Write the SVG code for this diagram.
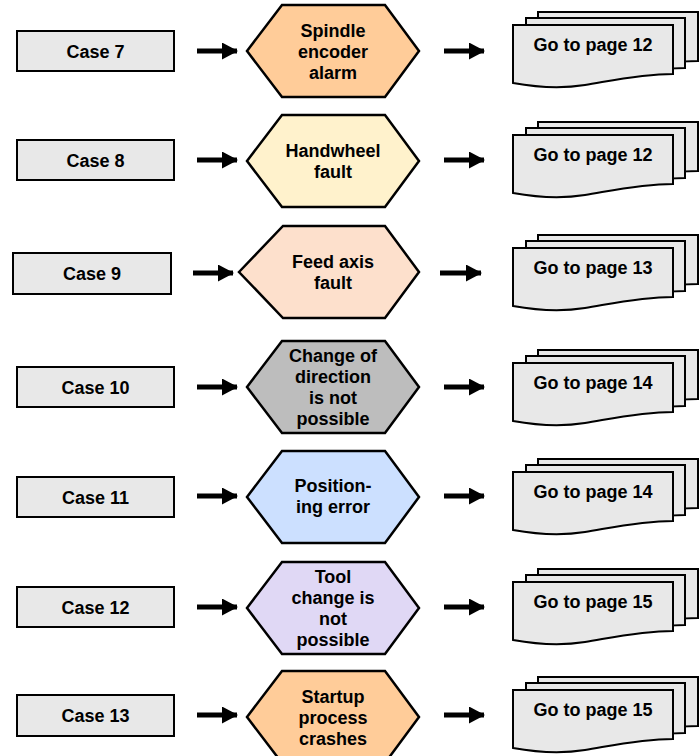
<svg xmlns="http://www.w3.org/2000/svg" xmlns:xlink="http://www.w3.org/1999/xlink" width="700" height="756" viewBox="0 0 700 756">
<style>
.case{fill:#e8e8e8;stroke:#000;stroke-width:2}
.hex{stroke:#000;stroke-width:2.5;stroke-linejoin:miter}
.page{fill:#e8e8e8;stroke:#000;stroke-width:2;stroke-linejoin:miter}
text{font-family:"Liberation Sans",Arial,sans-serif;font-weight:bold;font-size:18px;fill:#000;text-anchor:middle}
.arr{stroke:#000;stroke-width:5;fill:none;marker-end:url(#ah)}
</style>
<defs>
<marker id="ah" markerUnits="userSpaceOnUse" markerWidth="16" markerHeight="17" refX="15" refY="8.5" orient="auto" viewBox="0 0 16 17">
<path d="M0,0 L16,8.5 L0,17 Z" fill="#000"/>
</marker>
<polygon id="hexshape" points="-86,0 -51,-46 52,-46 86,0 52,46 -51,46"/>
<g id="stack">
<path class="page" d="M538,-39 H698 V10 C670,10 650,14 630,18 L538,18 Z"/>
<path class="page" d="M526,-33 H685 V17 C660,17 640,21 620,25 L526,25 Z"/>
<path class="page" d="M513,-26 H673 V23 C640,23 610,30 585,34 C560,38 535,36 513,32 Z"/>
</g>
</defs>

<g id="connectors">
<line class="arr" x1="197" y1="51" x2="237" y2="51"/>
<line class="arr" x1="444" y1="51" x2="484" y2="51"/>
<line class="arr" x1="197" y1="160" x2="237" y2="160"/>
<line class="arr" x1="444" y1="160" x2="484" y2="160"/>
<line class="arr" x1="193" y1="273" x2="233" y2="273"/>
<line class="arr" x1="440" y1="273" x2="481" y2="273"/>
<line class="arr" x1="197" y1="387" x2="237" y2="387"/>
<line class="arr" x1="444" y1="387" x2="484" y2="387"/>
<line class="arr" x1="197" y1="496" x2="237" y2="496"/>
<line class="arr" x1="444" y1="496" x2="484" y2="496"/>
<line class="arr" x1="197" y1="607" x2="237" y2="607"/>
<line class="arr" x1="444" y1="607" x2="484" y2="607"/>
<line class="arr" x1="197" y1="715" x2="237" y2="715"/>
<line class="arr" x1="444" y1="715" x2="484" y2="715"/>
</g>

<g id="case7"><rect class="case" x="17" y="31" width="157" height="40"/><text x="95.5" y="57.5">Case 7</text></g>
<g id="case8"><rect class="case" x="17" y="140" width="157" height="40"/><text x="95.5" y="166.5">Case 8</text></g>
<g id="case9"><rect class="case" x="13" y="253" width="158" height="41"/><text x="92" y="280">Case 9</text></g>
<g id="case10"><rect class="case" x="17" y="367" width="157" height="40"/><text x="95.5" y="393.5">Case 10</text></g>
<g id="case11"><rect class="case" x="17" y="477" width="157" height="40"/><text x="95.5" y="503.5">Case 11</text></g>
<g id="case12"><rect class="case" x="17" y="587" width="157" height="40"/><text x="95.5" y="613.5">Case 12</text></g>
<g id="case13"><rect class="case" x="17" y="695" width="157" height="41"/><text x="95.5" y="722">Case 13</text></g>

<g id="hex-spindle" transform="translate(333,51)"><use href="#hexshape" class="hex" fill="#ffcc99"/>
<text x="0" y="-14">Spindle</text><text x="0" y="7">encoder</text><text x="0" y="28">alarm</text></g>
<g id="hex-handwheel" transform="translate(333,161)"><use href="#hexshape" class="hex" fill="#fff2cc"/>
<text x="0" y="-4">Handwheel</text><text x="0" y="17">fault</text></g>
<g id="hex-feed" transform="translate(331,272)"><polygon class="hex" fill="#fde0cc" points="-92,0 -48,-46 54,-46 88,0 54,46 -48,46"/>
<text x="2" y="-4">Feed axis</text><text x="2" y="17">fault</text></g>
<g id="hex-direction" transform="translate(333,387)"><use href="#hexshape" class="hex" fill="#bdbdbd"/>
<text x="0" y="-25">Change of</text><text x="0" y="-4">direction</text><text x="0" y="17">is not</text><text x="0" y="38">possible</text></g>
<g id="hex-positioning" transform="translate(333,497)"><use href="#hexshape" class="hex" fill="#cce0ff"/>
<text x="0" y="-5">Position-</text><text x="0" y="16">ing error</text></g>
<g id="hex-tool" transform="translate(333,608)"><use href="#hexshape" class="hex" fill="#e0d8f5"/>
<text x="0" y="-25">Tool</text><text x="0" y="-4">change is</text><text x="0" y="17">not</text><text x="0" y="38">possible</text></g>
<g id="hex-startup" transform="translate(333,717)"><use href="#hexshape" class="hex" fill="#ffcc99"/>
<text x="0" y="-14">Startup</text><text x="0" y="7">process</text><text x="0" y="28">crashes</text></g>

<g id="doc1"><use href="#stack" y="51"/><text x="593" y="51">Go to page 12</text></g>
<g id="doc2"><use href="#stack" y="161"/><text x="593" y="161">Go to page 12</text></g>
<g id="doc3"><use href="#stack" y="274"/><text x="593" y="274">Go to page 13</text></g>
<g id="doc4"><use href="#stack" y="389"/><text x="593" y="389">Go to page 14</text></g>
<g id="doc5"><use href="#stack" y="498"/><text x="593" y="498">Go to page 14</text></g>
<g id="doc6"><use href="#stack" y="608"/><text x="593" y="608">Go to page 15</text></g>
<g id="doc7"><use href="#stack" y="716"/><text x="593" y="716">Go to page 15</text></g>
</svg>
